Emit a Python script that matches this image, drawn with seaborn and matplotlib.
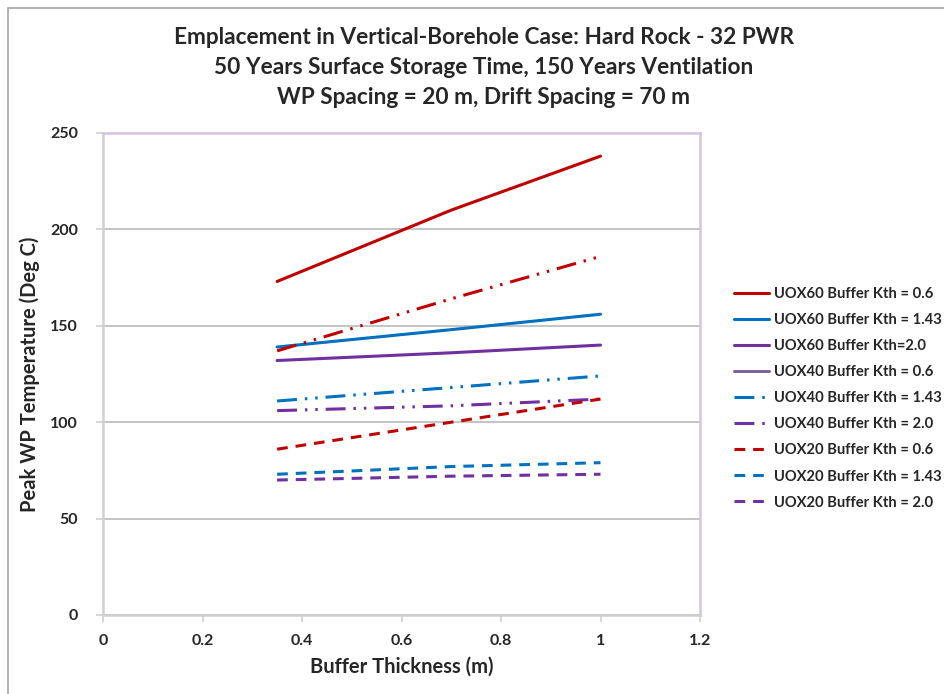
import matplotlib
matplotlib.use("Agg")
import matplotlib.pyplot as plt
from matplotlib.lines import Line2D
from matplotlib.patches import Rectangle
import pandas as pd
import seaborn as sns

# data
thickness = [0.35, 0.7, 1.0]
uox60_k06 = [173, 210, 238]
uox60_k143 = [139, 148, 156]
uox60_k20 = [132, 136, 140]
uox40_k06 = [137, 164, 186]
uox40_k143 = [111, 118, 124]
uox40_k20 = [106, 108.5, 112]
uox20_k06 = [86, 100, 112]
uox20_k143 = [73, 77, 79]
uox20_k20 = [70, 72, 73]

labels = ["UOX60 Buffer Kth = 0.6", "UOX60 Buffer Kth = 1.43", "UOX60 Buffer Kth=2.0",
          "UOX40 Buffer Kth = 0.6", "UOX40 Buffer Kth = 1.43", "UOX40 Buffer Kth = 2.0",
          "UOX20 Buffer Kth = 0.6", "UOX20 Buffer Kth = 1.43", "UOX20 Buffer Kth = 2.0"]
series = [uox60_k06, uox60_k143, uox60_k20, uox40_k06, uox40_k143, uox40_k20,
          uox20_k06, uox20_k143, uox20_k20]

red, blue, purple = "#C00000", "#0070C0", "#7030A0"
colors = [red, blue, purple, red, blue, purple, red, blue, purple]
solid = "-"
dashdotdot = (0, (6.5, 2.6, 0.8, 2.6, 0.8, 2.6))
dashed = (0, (3.5, 2.6))
styles = [solid] * 3 + [dashdotdot] * 3 + [dashed] * 3

sns.set_style("white")
plt.rcParams["font.family"] = ["Lato", "DejaVu Sans"]

fig = plt.figure(figsize=(9.44, 6.94), dpi=100)
ax = fig.add_axes([103 / 944, 1 - 615 / 694, 597 / 944, 482 / 694])

for lab, vals, c, ls in zip(labels, series, colors, styles):
    df = pd.DataFrame({"x": thickness, "y": vals})
    sns.lineplot(data=df, x="x", y="y", ax=ax, color=c, linestyle=ls, linewidth=2.2, label=lab)

ax.set_xlim(0, 1.2)
ax.set_ylim(0, 250)
ax.set_xticks([0, 0.2, 0.4, 0.6, 0.8, 1.0, 1.2])
ax.set_xticklabels(["0", "0.2", "0.4", "0.6", "0.8", "1", "1.2"])
ax.set_yticks([0, 50, 100, 150, 200, 250])
ax.grid(axis="y", color="#BFBFBF", linewidth=1.3)
ax.tick_params(axis="both", labelsize=11.5, length=5, width=1.2, color="#D0D0D0",
               direction="out", bottom=True, left=True)
ax.tick_params(axis="y", pad=13)
ax.tick_params(axis="x", pad=9)
for t in ax.get_xticklabels() + ax.get_yticklabels():
    t.set_fontweight("bold")
for side in ["left", "bottom"]:
    ax.spines[side].set_color("#D0D0D0")
    ax.spines[side].set_linewidth(1.8)
for side in ["top", "right"]:
    ax.spines[side].set_color("#D4C3E4")
    ax.spines[side].set_linewidth(1.8)

ax.set_xlabel("Buffer Thickness (m)", fontsize=14.5, fontweight="bold", labelpad=6)
ax.set_ylabel("Peak WP Temperature (Deg C)", fontsize=14.5, fontweight="bold", labelpad=7)

title_lines = ["Emplacement in Vertical-Borehole Case: Hard Rock - 32 PWR",
               "50 Years Surface Storage Time, 150 Years Ventilation",
               "WP Spacing = 20 m, Drift Spacing = 70 m"]
for txt, ypix in zip(title_lines, [38, 67, 97]):
    fig.text(484 / 944, 1 - ypix / 694, txt, ha="center", va="center",
             fontsize=16.3, fontweight="bold")

# legend, the UOX40 Kth 0.6 sample is drawn as a plain muted line in the reference
handles, hlabels = ax.get_legend_handles_labels()
handles[3] = Line2D([], [], color="#8064A2", linewidth=2.2)
ax.legend_.remove()
fig.legend(handles, hlabels, loc="upper left", bbox_to_anchor=(734 / 944, 1 - 287 / 694),
           frameon=False, prop={"weight": "bold", "size": 10.6}, handlelength=2.4,
           handletextpad=0.3, labelspacing=0.82, borderaxespad=0, borderpad=0)

fig.patches.append(Rectangle((8 / 944, -0.01), 1.0, 1 - 8 / 694 + 0.01, transform=fig.transFigure,
                             fill=False, edgecolor="#A6A6A6", linewidth=1.2))

fig.savefig("out.png", dpi=100)
